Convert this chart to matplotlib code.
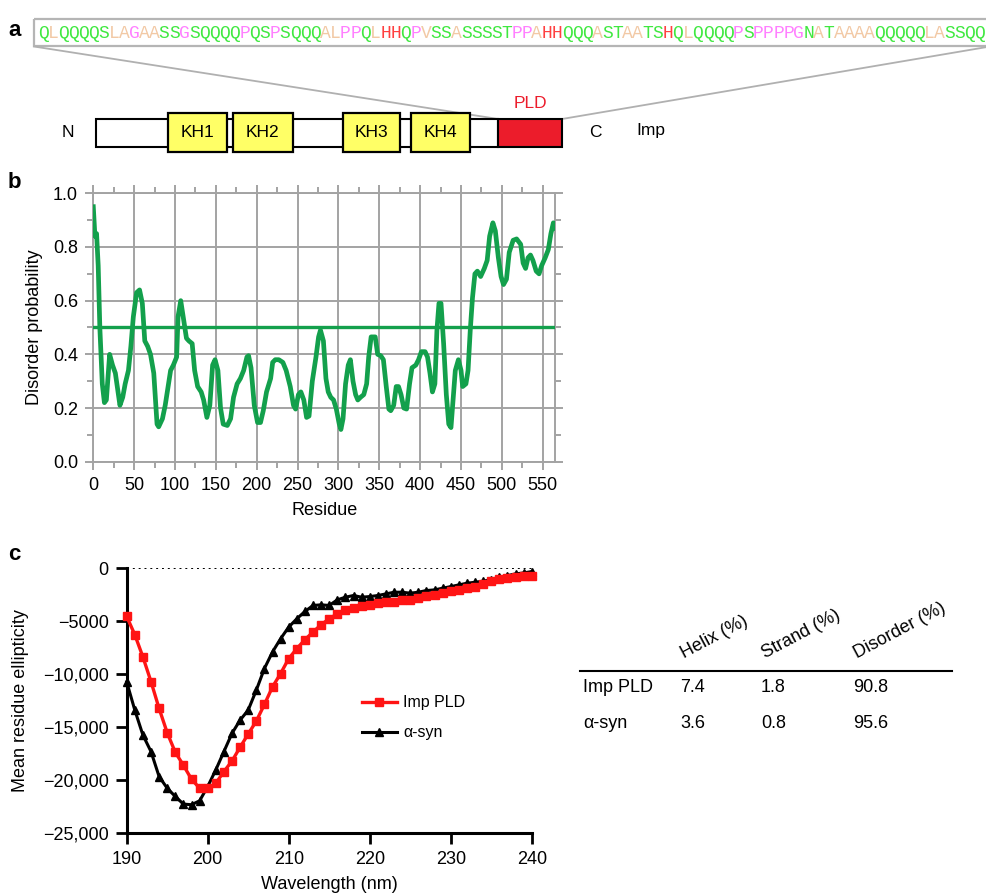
import numpy as np
import matplotlib
matplotlib.use('Agg')
import matplotlib.pyplot as plt
from matplotlib.patches import Rectangle
from matplotlib.ticker import MultipleLocator

plt.rcParams['font.family'] = ['Liberation Sans', 'DejaVu Sans']

W, H = 986, 896

# --- panel a: PLD sequence and domain map
pld_seq = "QLQQQQSLAGAASSGSQQQQPQSPSQQQALPPQLHHQPVSSASSSSTPPAHHQQQASTAATSHQLQQQQPSPPPPGNATAAAAQQQQQLASSQQ"
aa_color = {'Q': '#40e840', 'S': '#40e840', 'T': '#40e840', 'N': '#40e840',
            'L': '#f2c9a5', 'A': '#f2c9a5', 'V': '#f2c9a5',
            'G': '#ff80ff', 'P': '#ff80ff', 'H': '#ff4040'}
kh_names = ['KH1', 'KH2', 'KH3', 'KH4']
kh_start = [88, 167, 301, 384]
kh_end = [159, 240, 371, 456]
pld_start = 491
protein_len = 569

# --- panel b: disorder prediction
residue = [0, 2, 4, 6, 8, 11, 13.6, 16, 20, 23.5, 27, 32.6, 36, 39, 43, 46, 49, 53, 56.6, 60,
           63, 66.5, 70, 74, 78, 80, 84.6, 88, 92, 94.6, 98, 102, 103.7, 107, 110, 114, 117, 121,
           124, 127.7, 132, 135, 139, 142.6, 146, 149, 152.5, 155.7, 159, 164, 168, 171.6, 176,
           180, 184, 188, 190, 193, 197, 201, 204.6, 208, 212, 217, 219.5, 222.7, 227, 232, 236,
           241, 245, 247.6, 251, 254, 257.6, 261, 264, 268, 272.5, 275.7, 278, 281.6, 284.7,
           287.5, 290.6, 294, 297.4, 301, 303, 305.6, 308.7, 312, 314.6, 317.8, 321, 323.7, 327,
           331, 334.5, 337, 340, 345, 348, 351.7, 355, 358.5, 361.7, 364, 367.6, 370.7, 373.5,
           376.6, 380, 383.4, 387, 390, 394.7, 398, 401.5, 406, 409, 412, 415, 418, 420.5, 423,
           425.5, 428.7, 432, 435, 437.7, 440.5, 443, 446.8, 450, 452, 456, 458.6, 461.3, 464,
           467, 470, 474, 478.5, 482, 485, 489, 492, 495.7, 499, 502, 505.6, 509, 513.8, 518,
           523, 526, 529, 532, 535, 538, 542, 545.5, 548.6, 553, 556.8, 560, 563, 565]
disorder = [0.95, 0.84, 0.85, 0.73, 0.50, 0.29, 0.22, 0.23, 0.40, 0.36, 0.33, 0.21, 0.24, 0.29,
            0.34, 0.43, 0.54, 0.63, 0.64, 0.59, 0.45, 0.43, 0.40, 0.33, 0.14, 0.13, 0.16, 0.21,
            0.29, 0.34, 0.36, 0.39, 0.54, 0.60, 0.54, 0.46, 0.45, 0.44, 0.34, 0.28, 0.26, 0.23,
            0.165, 0.21, 0.36, 0.38, 0.34, 0.20, 0.14, 0.135, 0.16, 0.24, 0.29, 0.31, 0.34, 0.39,
            0.395, 0.35, 0.21, 0.146, 0.146, 0.19, 0.26, 0.31, 0.37, 0.38, 0.38, 0.37, 0.34, 0.28,
            0.21, 0.196, 0.25, 0.26, 0.23, 0.165, 0.17, 0.30, 0.39, 0.465, 0.49, 0.45, 0.31, 0.26,
            0.24, 0.23, 0.196, 0.14, 0.12, 0.16, 0.29, 0.36, 0.38, 0.30, 0.25, 0.23, 0.24, 0.25,
            0.29, 0.39, 0.465, 0.465, 0.40, 0.395, 0.38, 0.28, 0.196, 0.19, 0.21, 0.28, 0.28, 0.25,
            0.20, 0.196, 0.29, 0.35, 0.36, 0.38, 0.41, 0.41, 0.39, 0.33, 0.26, 0.29, 0.49, 0.59,
            0.59, 0.44, 0.25, 0.14, 0.127, 0.24, 0.34, 0.38, 0.34, 0.28, 0.29, 0.34, 0.49, 0.61,
            0.70, 0.71, 0.69, 0.72, 0.75, 0.84, 0.89, 0.86, 0.76, 0.69, 0.66, 0.68, 0.78, 0.825,
            0.83, 0.81, 0.74, 0.72, 0.76, 0.77, 0.75, 0.71, 0.70, 0.73, 0.76, 0.79, 0.85, 0.89, 0.87]
threshold = 0.5

# --- panel c: CD spectra
wavelength = list(range(190, 241))
imp_pld = [-4550, -6270, -8370, -10700, -13240, -15530, -17380, -18600, -19920, -20770,
           -20770, -20300, -19200, -18200, -16900, -15650, -14430, -12860, -11200, -9940,
           -8530, -7590, -6740, -6020, -5330, -4770, -4300, -3980, -3760, -3580,
           -3420, -3290, -3200, -3140, -3040, -2950, -2790, -2630, -2480, -2320,
           -2160, -2040, -1880, -1730, -1470, -1220, -1040, -910, -850, -750, -750]
asyn = [-10730, -13390, -15750, -17310, -19670, -20770, -21550, -22270, -22330, -21960,
        -20610, -19040, -17310, -15590, -14340, -13390, -11510, -9470, -7900, -6650,
        -5550, -4770, -4080, -3510, -3450, -3510, -2980, -2730, -2570, -2730,
        -2670, -2570, -2420, -2260, -2260, -2350, -2260, -2100, -2040, -1880,
        -1730, -1570, -1410, -1320, -1220, -1070, -850, -690, -530, -440, -310]
cd_yticks = [0, -5000, -10000, -15000, -20000, -25000]
cd_yticklabels = ['0', '\u22125000', '\u221210,000', '\u221215,000', '\u221220,000', '\u221225,000']

table_cols = ['Helix (%)', 'Strand (%)', 'Disorder (%)']
table_rows = ['Imp PLD', '\u03b1-syn']
table_vals = [['7.4', '1.8', '90.8'], ['3.6', '0.8', '95.6']]

green = '#13a04c'
grid_gray = '#a3a3a3'


def box(l, t, r, b):
    # pixel box -> figure fraction
    return [l / W, 1 - b / H, (r - l) / W, (b - t) / H]


fig = plt.figure(figsize=(W / 100, H / 100), dpi=100)

# overlay in pixel coordinates for annotations
ov = fig.add_axes([0, 0, 1, 1])
ov.set_xlim(0, W)
ov.set_ylim(H, 0)
ov.axis('off')
ov.set_facecolor('none')

# panel letters
for lab, y in zip(['a', 'b', 'c'], [30, 183, 555]):
    ov.text(8, y, lab, fontsize=16, fontweight='bold', ha='left', va='center')

# sequence box
ov.add_patch(Rectangle((34, 19), 960, 27.5, fill=False, ec='#b5b5b5', lw=1.6, clip_on=False))
step = (985 - 38.3) / len(pld_seq)
for i, ch in enumerate(pld_seq):
    ov.text(38.3 + step * (i + 0.5), 33, ch, color=aa_color[ch], family='Liberation Mono',
            fontsize=13, ha='center', va='center')

# domain map
ad = fig.add_axes(box(96.4, 100, 562, 160))
ad.set_xlim(0, protein_len)
ad.set_ylim(160, 100)
ad.axis('off')
ad.set_facecolor('none')
ad.add_patch(Rectangle((0, 119), pld_start, 28, fc='white', ec='black', lw=1.5, clip_on=False))
for name, s, e in zip(kh_names, kh_start, kh_end):
    ad.add_patch(Rectangle((s, 113), e - s, 39, fc='#ffff66', ec='black', lw=1.6, clip_on=False))
    ad.text((s + e) / 2, 132.5, name, ha='center', va='center', fontsize=12.5)
ad.add_patch(Rectangle((pld_start, 119), protein_len - pld_start, 28, fc='#ec1c2b',
                       ec='black', lw=1.5, clip_on=False))
ad.text((pld_start + protein_len) / 2, 104, 'PLD', color='#ec1c2b', ha='center', va='center',
        fontsize=12.5)

ov.text(68, 132.5, 'N', ha='center', va='center', fontsize=12.5)
ov.text(595, 132.5, 'C', ha='center', va='center', fontsize=12.5)
ov.text(636, 131, 'Imp', ha='left', va='center', fontsize=12.5)

# funnel lines from sequence box to the PLD
to_ov = ov.transData.inverted()
pl = to_ov.transform(ad.transData.transform((pld_start, 119)))
pr = to_ov.transform(ad.transData.transform((protein_len, 119)))
ov.plot([34, pl[0]], [46.5, pl[1]], color='#b0b0b0', lw=1.3)
ov.plot([990, pr[0]], [46.5, pr[1]], color='#b0b0b0', lw=1.3, clip_on=False)

# --- panel b
ab = fig.add_axes(box(93.3, 193.3, 555, 461.7))
ab.plot(residue, disorder, color=green, lw=3.4, solid_joinstyle='round', zorder=3)
ab.axhline(threshold, color=green, lw=2.4, zorder=3)
ab.set_xlim(0, 565)
ab.set_ylim(0, 1)
ab.xaxis.set_major_locator(MultipleLocator(50))
ab.xaxis.set_minor_locator(MultipleLocator(25))
ab.yaxis.set_major_locator(MultipleLocator(0.2))
ab.yaxis.set_minor_locator(MultipleLocator(0.1))
ab.yaxis.set_major_formatter(lambda v, p: f'{v:.1f}')
ab.grid(True, which='major', color=grid_gray, lw=1.4)
for sp in ab.spines.values():
    sp.set_color(grid_gray)
    sp.set_linewidth(1.4)
ab.tick_params(which='both', direction='out', color=grid_gray, width=1.4,
               top=True, right=True, labelsize=13)
ab.tick_params(which='major', length=6, pad=5)
ab.tick_params(which='minor', length=4)
ab.set_xlabel('Residue', fontsize=13, labelpad=6)
ab.set_ylabel('Disorder probability', fontsize=13, labelpad=7)

# --- panel c
ac = fig.add_axes(box(126.7, 568.3, 531.7, 833))
ac.axhline(0, color='black', ls=(0, (1, 2)), lw=1.4, zorder=1)
h_syn, = ac.plot(wavelength, asyn, color='black', marker='^', ms=6, lw=2.2,
                 clip_on=False, zorder=3)
h_imp, = ac.plot(wavelength, imp_pld, color='#ff1414', marker='s', ms=6, lw=2.4,
                 clip_on=False, zorder=4)
ac.set_xlim(190, 240)
ac.set_ylim(-25000, 0)
ac.set_xticks(range(190, 241, 10))
ac.set_yticks(cd_yticks)
ac.set_yticklabels(cd_yticklabels)
for s in ['top', 'right']:
    ac.spines[s].set_visible(False)
for s in ['left', 'bottom']:
    ac.spines[s].set_linewidth(2.2)
ac.tick_params(direction='out', length=8, width=2, labelsize=13, pad=5)
ac.set_xlabel('Wavelength (nm)', fontsize=13, labelpad=6)
ac.set_ylabel('Mean residue ellipticity', fontsize=13, labelpad=10)
ac.legend([h_imp, h_syn], ['Imp PLD', '\u03b1-syn'], loc='upper left',
          bbox_to_anchor=(0.545, 0.575), frameon=False, fontsize=11.5,
          handlelength=2.2, handletextpad=0.4, labelspacing=0.95, markerscale=1.0)

# --- table
col_x = [680, 761, 853]
row_y = [688, 723]
for x, name in zip(col_x, table_cols):
    ov.text(x + 6, 662, name, rotation=28, rotation_mode='anchor', ha='left', va='bottom',
            fontsize=13)
ov.plot([580, 952], [671, 671], color='black', lw=1.5)
for y, name, vals in zip(row_y, table_rows, table_vals):
    ov.text(583, y, name, ha='left', va='center', fontsize=13)
    for x, v in zip(col_x, vals):
        ov.text(x, y, v, ha='left', va='center', fontsize=13)

fig.savefig('out.png', dpi=100)
